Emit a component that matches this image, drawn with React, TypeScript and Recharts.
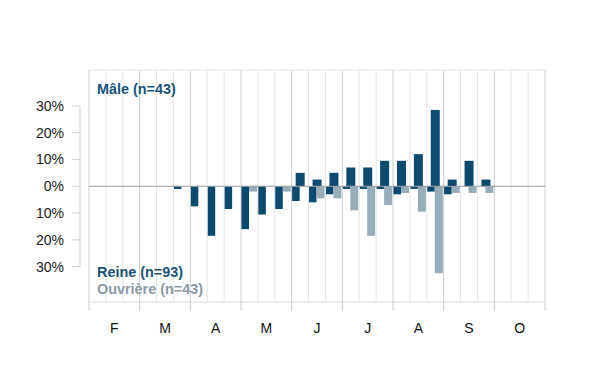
import { BarChart, Bar, XAxis, YAxis, ReferenceLine } from 'recharts';

// months Feb..Oct, each split in three decades
const months = ['F', 'M', 'A', 'M', 'J', 'J', 'A', 'S', 'O'];
const decades = [1, 2, 3];

// % of individuals per decade
const male = [0, 0, 0, 0, 0, 0, 0, 0, 0, 0, 0, 0, 5, 2.5, 5, 7, 7, 9.5, 9.5, 12, 28.5, 2.5, 9.5, 2.5, 0, 0, 0];
const reine = [0, 0, 0, 0, 0, 1, 7.5, 18.5, 8.5, 16, 10.5, 8.5, 5.5, 6, 3, 1, 1, 1, 3, 1, 2, 3, 0, 0, 0, 0, 0];
const ouvriere = [0, 0, 0, 0, 0, 0, 0, 0, 0, 2, 0, 2, 0, 4.5, 4.5, 9, 18.5, 7, 2.5, 9.5, 32.5, 2.5, 2.5, 2.5, 0, 0, 0];

const yTicks = [-30, -20, -10, 0, 10, 20, 30];

const legendMale = 'Mâle (n=43)';
const legendReine = 'Reine (n=93)';
const legendOuvriere = 'Ouvrière (n=43)';

const DARK = '#0d4a70';
const GREY = '#98adba';
const FONT = '"Liberation Sans", Arial, sans-serif';

const data = months.flatMap((m, mi) =>
  decades.map((d, di) => {
    const i = mi * 3 + di;
    return {
      key: `${mi}-${d}`,
      pos: i + 0.5,
      male: male[i],
      reine: -reine[i],
      ouvriere: -ouvriere[i],
    };
  })
);

const slotEdges = Array.from({ length: data.length + 1 }, (_, i) => i);
const monthEdges = slotEdges.filter((i) => i % 3 === 0);

const monthLabel = (v: string) => {
  const [mi, d] = v.split('-');
  return d === '2' ? months[Number(mi)] : '';
};

const legendStyle = {
  position: 'absolute' as const,
  left: 89,
  fontSize: 14.4,
  fontWeight: 700,
  lineHeight: '16px',
  whiteSpace: 'nowrap' as const,
};

export default function App() {
  return (
    <div style={{ position: 'relative', width: 592, height: 374, fontFamily: FONT }}>
      <BarChart
        width={592}
        height={374}
        data={data}
        margin={{ top: 62, right: 55, bottom: 40, left: 0 }}
        barCategoryGap={0}
        barGap={0}
        style={{ fontFamily: FONT }}
      >
        <XAxis
          xAxisId="b_cat"
          dataKey="key"
          interval={0}
          padding={{ left: 9, right: 0 }}
          tickLine={false}
          axisLine={false}
          tickFormatter={monthLabel}
          tick={{ fontSize: 14, fill: '#111' }}
          tickMargin={5}
          height={30}
        />
        <XAxis
          xAxisId="a_edges"
          type="number"
          dataKey="pos"
          domain={[0, 27]}
          ticks={monthEdges}
          padding={{ left: 9, right: 0 }}
          axisLine={false}
          tickLine={{ stroke: '#cbcbcb' }}
          tickSize={9}
          tickFormatter={() => ''}
          height={10}
        />
        <XAxis xAxisId="c_male" dataKey="key" hide padding={{ left: 9, right: 0 }} />
        <YAxis
          domain={[-43.2, 43.4]}
          ticks={yTicks}
          allowDataOverflow
          tickFormatter={(v) => `${Math.abs(v)}%`}
          width={72}
          tickSize={8}
          tickMargin={8}
          tickLine={{ stroke: '#cfcfcf' }}
          axisLine={{ stroke: '#cfcfcf', strokeDasharray: '0 36 161 1000' }}
          tick={{ fontSize: 14, fill: '#1a1a1a' }}
        />

        {slotEdges.map((i) => (
          <ReferenceLine
            key={i}
            xAxisId="a_edges"
            x={i}
            stroke={i % 3 === 0 ? '#cdcdcd' : '#e6e6e6'}
            ifOverflow="visible"
          />
        ))}
        <ReferenceLine
          xAxisId="a_edges"
          segment={[{ x: 0, y: 43.4 }, { x: 27, y: 43.4 }]}
          stroke="#e2e2e2"
          ifOverflow="visible"
        />
        <ReferenceLine
          xAxisId="a_edges"
          segment={[{ x: 0, y: -43.2 }, { x: 27, y: -43.2 }]}
          stroke="#dcdcdc"
          ifOverflow="visible"
        />
        <ReferenceLine
          xAxisId="a_edges"
          segment={[{ x: 0, y: 0 }, { x: 27, y: 0 }]}
          stroke="#9a9a9a"
          ifOverflow="visible"
        />

        <Bar xAxisId="c_male" dataKey="male" fill={DARK} barSize={9} isAnimationActive={false} />
        <Bar xAxisId="b_cat" dataKey="reine" fill={DARK} isAnimationActive={false} />
        <Bar xAxisId="b_cat" dataKey="ouvriere" fill={GREY} isAnimationActive={false} />
      </BarChart>

      <div style={{ ...legendStyle, top: 73, color: '#1a5279' }}>{legendMale}</div>
      <div style={{ ...legendStyle, top: 256, color: '#1a5279' }}>{legendReine}</div>
      <div style={{ ...legendStyle, top: 273, color: '#8a99a4' }}>{legendOuvriere}</div>
    </div>
  );
}
